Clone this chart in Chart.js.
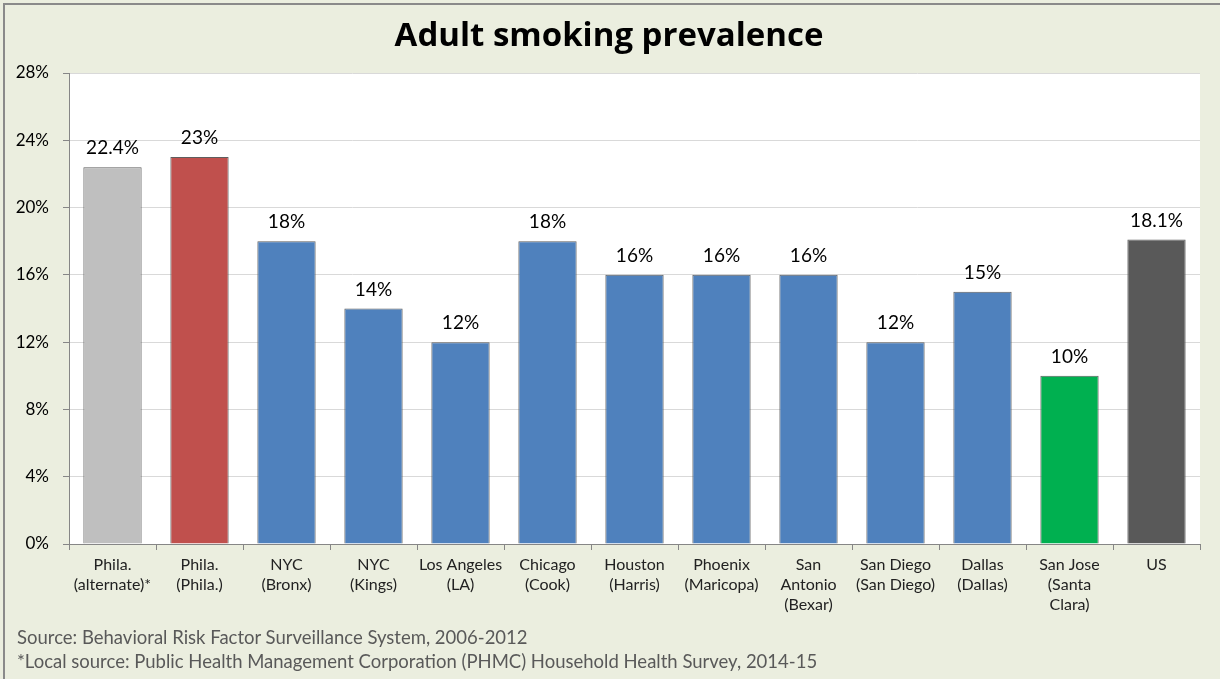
<!DOCTYPE html>
<html>
<head>
<meta charset="utf-8">
<script src="https://cdn.jsdelivr.net/npm/chart.js@4"></script>
<style>
  html, body { margin: 0; padding: 0; background: #EBEEDF; width: 1220px; height: 679px; overflow: hidden; }
  #frame { position: absolute; left: 3px; top: 3px; width: 1400px; height: 900px; border: 2px solid #8a8a8a; box-sizing: border-box; }
  #wrap { position: absolute; left: 0; top: 0; width: 1220px; height: 679px; }
  #title { position: absolute; left: 0; top: 14px; width: 1218px; text-align: center; font-family: "Open Sans", Lato, sans-serif; font-weight: bold; font-size: 33px; line-height: 40px; color: #000; white-space: nowrap; }
  .src { position: absolute; left: 17px; font-family: Lato, "Open Sans", sans-serif; font-size: 18.5px; color: #595959; white-space: nowrap; line-height: 22px; }
</style>
</head>
<body>
<div id="frame"></div>
<div id="wrap"><canvas id="c" width="1220" height="679"></canvas></div>
<div id="title"></div>
<div class="src" style="top:626px">Source: Behavioral Risk Factor Surveillance System, 2006-2012</div>
<div class="src" style="top:650px">*Local source: Public Health Management Corporation (PHMC) Household Health Survey, 2014-15</div>
<script>
const titleText = "Adult smoking prevalence";
const categories = [
  ["Phila.", "(alternate)*"],
  ["Phila.", "(Phila.)"],
  ["NYC", "(Bronx)"],
  ["NYC", "(Kings)"],
  ["Los Angeles", "(LA)"],
  ["Chicago", "(Cook)"],
  ["Houston", "(Harris)"],
  ["Phoenix", "(Maricopa)"],
  ["San", "Antonio", "(Bexar)"],
  ["San Diego", "(San Diego)"],
  ["Dallas", "(Dallas)"],
  ["San Jose", "(Santa", "Clara)"],
  ["US"]
];
const values = [22.4, 23, 18, 14, 12, 18, 16, 16, 16, 12, 15, 10, 18.1];
const valueLabels = ["22.4%", "23%", "18%", "14%", "12%", "18%", "16%", "16%", "16%", "12%", "15%", "10%", "18.1%"];
const barColors = ["#BFBFBF", "#C0504D", "#4F81BD", "#4F81BD", "#4F81BD", "#4F81BD", "#4F81BD", "#4F81BD", "#4F81BD", "#4F81BD", "#4F81BD", "#00B050", "#595959"];
const yTicks = [0, 4, 8, 12, 16, 20, 24, 28];

document.getElementById('title').textContent = titleText;

const FONT = 'Lato, "Open Sans", sans-serif';

const plotBg = {
  id: 'plotBg',
  beforeDraw(chart) {
    const {ctx, chartArea: a} = chart;
    ctx.save();
    ctx.fillStyle = '#FFFFFF';
    ctx.fillRect(a.left, a.top, a.right - a.left, a.bottom - a.top);
    ctx.restore();
  }
};

const valueLabelPlugin = {
  id: 'valueLabels',
  afterDatasetsDraw(chart) {
    const {ctx} = chart;
    const meta = chart.getDatasetMeta(0);
    ctx.save();
    ctx.font = '19px ' + FONT;
    ctx.fillStyle = '#000';
    ctx.textAlign = 'center';
    ctx.textBaseline = 'middle';
    meta.data.forEach((bar, i) => {
      ctx.fillText(valueLabels[i], bar.x, bar.y - 19);
    });
    ctx.restore();
  }
};

new Chart(document.getElementById('c'), {
  type: 'bar',
  data: {
    labels: categories,
    datasets: [{
      data: values,
      backgroundColor: barColors,
      borderColor: '#5e5e5e',
      borderWidth: 1,
      barPercentage: 0.67,
      categoryPercentage: 1.0
    }]
  },
  options: {
    responsive: false,
    animation: false,
    layout: { padding: { left: 0, right: 20, top: 73, bottom: 0 } },
    plugins: {
      legend: { display: false },
      tooltip: { enabled: false },
      title: { display: false }
    },
    scales: {
      x: {
        grid: { display: true, drawOnChartArea: false, drawTicks: true, tickLength: 6, color: '#868686', offset: true },
        border: { display: true, color: '#868686', width: 1 },
        ticks: {
          color: '#222',
          font: { family: FONT, size: 16, lineHeight: 1.25 },
          padding: 5,
          maxRotation: 0,
          autoSkip: false
        },
        afterFit(s) { s.height = 135; }
      },
      y: {
        min: 0,
        max: 28,
        afterBuildTicks(s) { s.ticks = yTicks.map(v => ({ value: v })); },
        grid: { color: '#D9D9D9', tickLength: 6, tickColor: '#868686', drawTicks: true },
        border: { display: true, color: '#868686', width: 1 },
        ticks: {
          color: '#000',
          font: { family: FONT, size: 17 },
          padding: 14,
          callback: v => v + '%'
        },
        afterFit(s) { s.width = 69; }
      }
    }
  },
  plugins: [plotBg, valueLabelPlugin]
});
</script>
</body>
</html>
